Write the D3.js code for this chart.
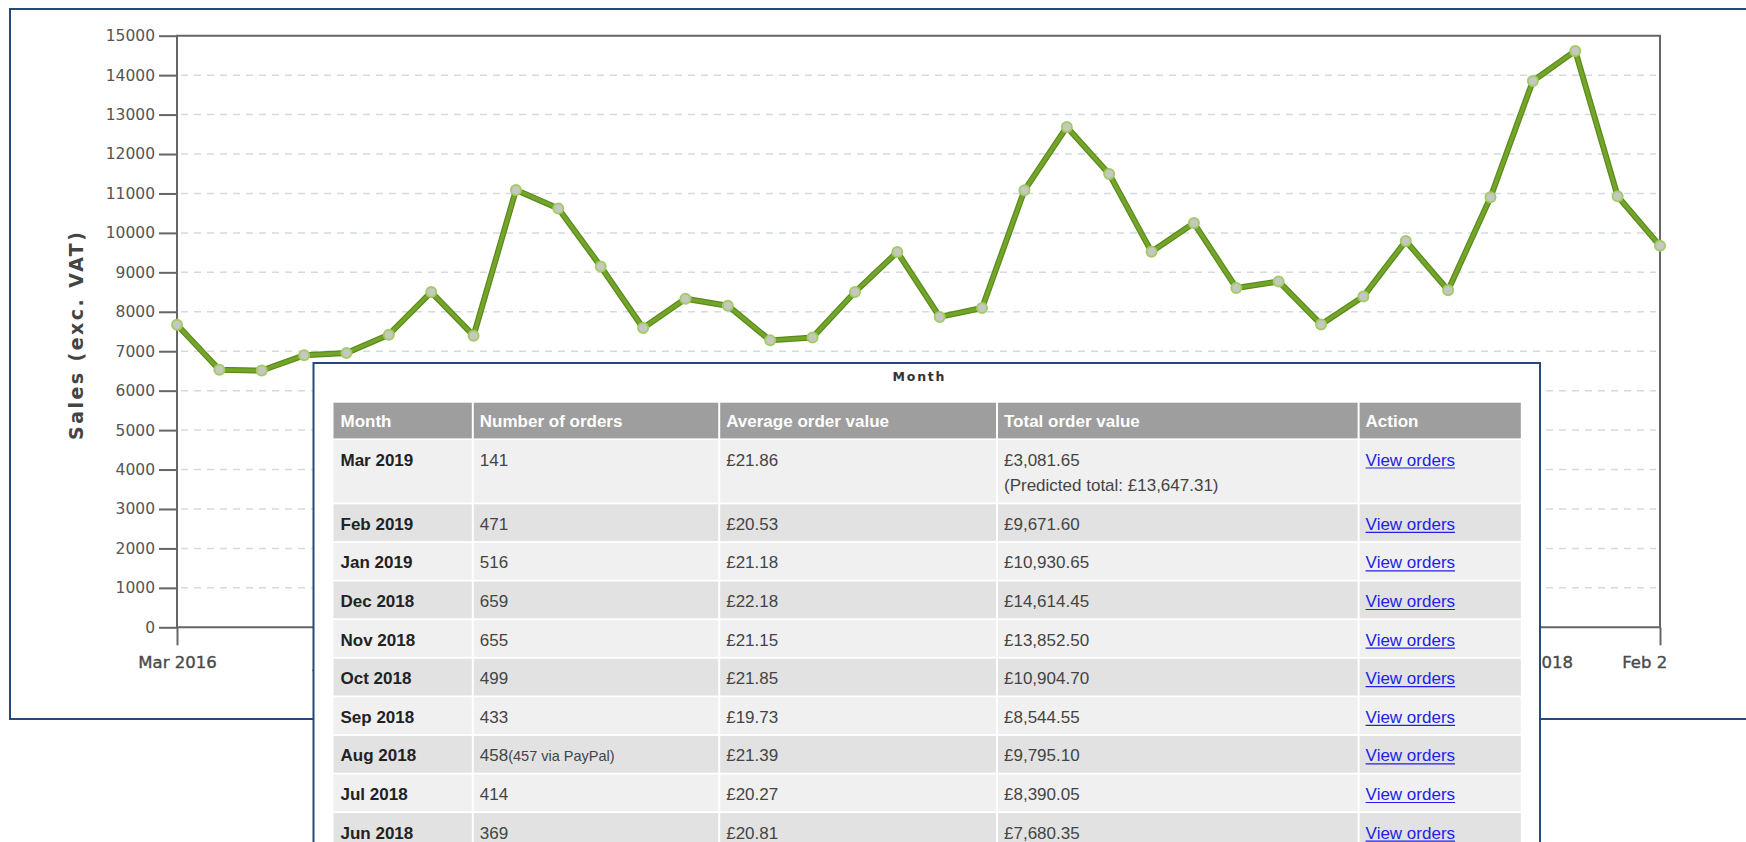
<!DOCTYPE html>
<html>
<head>
<meta charset="utf-8">
<script src="https://cdn.jsdelivr.net/npm/d3@7"></script>
<style>
  html, body { margin: 0; padding: 0; background: #fff; }
  svg { display: block; }
</style>
</head>
<body>
<svg id="c" width="1746" height="842"></svg>
<script>
// Monthly sales (exc. VAT)
const months = [
  "Mar 2016","Apr 2016","May 2016","Jun 2016","Jul 2016","Aug 2016","Sep 2016","Oct 2016","Nov 2016","Dec 2016",
  "Jan 2017","Feb 2017","Mar 2017","Apr 2017","May 2017","Jun 2017","Jul 2017","Aug 2017","Sep 2017","Oct 2017",
  "Nov 2017","Dec 2017","Jan 2018","Feb 2018","Mar 2018","Apr 2018","May 2018","Jun 2018","Jul 2018","Aug 2018",
  "Sep 2018","Oct 2018","Nov 2018","Dec 2018","Jan 2019","Feb 2019"
];
const sales = [
  7670, 6530, 6510, 6895, 6955, 7420, 8500, 7395, 11090, 10620,
  9150, 7590, 8330, 8155, 7275, 7350, 8500, 9515, 7870, 8095,
  11080, 12685, 11495, 9520, 10250, 8605, 8770, 7680.35, 8390.05, 9795.10,
  8544.55, 10904.70, 13852.50, 14614.45, 10930.65, 9671.60
];
const yTicks = [0,1000,2000,3000,4000,5000,6000,7000,8000,9000,10000,11000,12000,13000,14000,15000];
const xTickMonths = ["Mar 2016","Jul 2016","Nov 2016","Mar 2017","Jul 2017","Nov 2017","Mar 2018","Jul 2018","Nov 2018","Feb 2019"];

// Monthly order summary
const tableHeaders = ["Month","Number of orders","Average order value","Total order value","Action"];
const tableMonths = ["Mar 2019","Feb 2019","Jan 2019","Dec 2018","Nov 2018","Oct 2018","Sep 2018","Aug 2018","Jul 2018","Jun 2018"];
const orderCounts = [141, 471, 516, 659, 655, 499, 433, 458, 414, 369];
const orderNotes = ["", "", "", "", "", "", "", "(457 via PayPal)", "", ""];
const avgOrderValues = [21.86, 20.53, 21.18, 22.18, 21.15, 21.85, 19.73, 21.39, 20.27, 20.81];
const totalOrderValues = [3081.65, 9671.60, 10930.65, 14614.45, 13852.50, 10904.70, 8544.55, 9795.10, 8390.05, 7680.35];
const predictedTotals = [13647.31, null, null, null, null, null, null, null, null, null];
const actionLabel = "View orders";

const money = v => "£" + d3.format(",.2f")(v);

const svg = d3.select("#c");
const defs = svg.append("defs");
defs.append("clipPath").attr("id", "chartClip")
  .append("rect").attr("x", 0).attr("y", 0).attr("width", 1668).attr("height", 842);

const BLUE = "#25497b";
const AXIS = "#666";

// outer panel
svg.append("rect")
  .attr("x", 10).attr("y", 9).attr("width", 1760).attr("height", 710)
  .attr("fill", "#fff").attr("stroke", BLUE).attr("stroke-width", 2);

const x = d3.scalePoint().domain(months).range([177, 1660]);
const y = d3.scaleLinear().domain([0, 15000]).range([627.3, 35.7]);

const chart = svg.append("g").attr("clip-path", "url(#chartClip)");

// dashed horizontal grid
chart.append("g").selectAll("line")
  .data(yTicks.filter(v => v > 0 && v < 15000))
  .join("line")
  .attr("x1", 181).attr("x2", 1656)
  .attr("y1", d => y(d)).attr("y2", d => y(d))
  .attr("stroke", "#d4dae0").attr("stroke-width", 1.5)
  .attr("stroke-dasharray", "7,6");

// y axis
const yAxis = chart.append("g")
  .attr("transform", "translate(177,0)")
  .call(d3.axisLeft(y).tickValues(yTicks).tickSize(18).tickPadding(4).tickFormat(d3.format("d")));
yAxis.select(".domain").remove();
yAxis.selectAll(".tick line").attr("stroke", AXIS).attr("stroke-width", 2);
yAxis.selectAll(".tick text")
  .attr("font-family", "DejaVu Sans, sans-serif")
  .attr("font-size", 15.5).attr("fill", "#555");

// x axis
const xAxis = chart.append("g")
  .attr("transform", "translate(0,627.3)")
  .call(d3.axisBottom(x).tickValues(xTickMonths).tickSize(18).tickPadding(0));
xAxis.select(".domain").remove();
xAxis.selectAll(".tick line").attr("stroke", AXIS).attr("stroke-width", 2);
xAxis.selectAll(".tick text")
  .attr("y", 41).attr("dy", null)
  .attr("font-family", "DejaVu Sans, sans-serif")
  .attr("font-size", 16.5).attr("fill", "#4a4a4a")
  .attr("stroke", "#4a4a4a").attr("stroke-width", 0.4);

// plot frame
chart.append("path")
  .attr("d", `M${x.range()[0]},${y(0)}V${y(15000)}H${x.range()[1]}V${y(0)}Z`)
  .attr("fill", "none").attr("stroke", AXIS).attr("stroke-width", 2);

// sales line
const line = d3.line().x((d, i) => x(months[i])).y(d => y(d));
chart.append("path").datum(sales)
  .attr("d", line).attr("fill", "none")
  .attr("stroke", "#5c8a1b").attr("stroke-width", 6)
  .attr("stroke-linejoin", "round").attr("stroke-linecap", "round");
chart.append("path").datum(sales)
  .attr("d", line).attr("fill", "none")
  .attr("stroke", "#74a52b").attr("stroke-width", 3.5)
  .attr("stroke-linejoin", "round").attr("stroke-linecap", "round");

// point markers
chart.append("g").selectAll("circle")
  .data(sales)
  .join("circle")
  .attr("cx", (d, i) => x(months[i]))
  .attr("cy", d => y(d))
  .attr("r", 5)
  .attr("fill", "#c6c7c2")
  .attr("stroke", "#a2cc66").attr("stroke-width", 2);

// y axis title
svg.append("text")
  .attr("transform", "translate(82.5,336) rotate(-90)")
  .attr("text-anchor", "middle")
  .attr("font-family", "DejaVu Sans, sans-serif")
  .attr("font-weight", "bold")
  .attr("font-size", 19)
  .attr("fill", "#444")
  .attr("textLength", 208).attr("lengthAdjust", "spacing")
  .text("Sales (exc. VAT)");

// order summary panel
const panel = svg.append("g");
panel.append("rect")
  .attr("x", 313.5).attr("y", 363).attr("width", 1226.5).attr("height", 520)
  .attr("fill", "#fff").attr("stroke", BLUE).attr("stroke-width", 2);

// x axis title
panel.append("text")
  .attr("x", 918.5).attr("y", 380.5)
  .attr("text-anchor", "middle")
  .attr("font-family", "DejaVu Sans, sans-serif")
  .attr("font-weight", "bold")
  .attr("font-size", 12.5)
  .attr("fill", "#333")
  .attr("textLength", 52).attr("lengthAdjust", "spacing")
  .text("Month");

const colX = [333.5, 472.8, 719.2, 997, 1358.6, 1520.8];
const FONT = "Liberation Sans, Arial, sans-serif";

// header row
const headTop = 402.7, headH = 37.3;
tableHeaders.forEach((h, j) => {
  const x0 = colX[j] + (j > 0 ? 1 : 0), x1 = colX[j + 1] - (j < 4 ? 1 : 0);
  panel.append("rect").attr("x", x0).attr("y", headTop).attr("width", x1 - x0).attr("height", headH - 1.6)
    .attr("fill", "#9e9e9e");
  panel.append("text").attr("x", colX[j] + 7).attr("y", headTop + 24)
    .attr("font-family", FONT).attr("font-weight", "bold").attr("font-size", 17)
    .attr("fill", "#fff").text(h);
});

// body rows
let rowTop = headTop + headH;
tableMonths.forEach((m, i) => {
  const twoLines = predictedTotals[i] != null;
  const h = twoLines ? 64.3 : 38.6;
  const fill = i % 2 === 0 ? "#f0f0f0" : "#e2e2e2";
  for (let j = 0; j < 5; j++) {
    const x0 = colX[j] + (j > 0 ? 1 : 0), x1 = colX[j + 1] - (j < 4 ? 1 : 0);
    panel.append("rect").attr("x", x0).attr("y", rowTop).attr("width", x1 - x0).attr("height", h - 1.8)
      .attr("fill", fill);
  }
  const base = rowTop + 25.5;
  panel.append("text").attr("x", colX[0] + 7).attr("y", base)
    .attr("font-family", FONT).attr("font-weight", "bold").attr("font-size", 17)
    .attr("fill", "#222").text(m);

  const cnt = panel.append("text").attr("x", colX[1] + 7).attr("y", base)
    .attr("font-family", FONT).attr("font-size", 17).attr("fill", "#444");
  cnt.append("tspan").text(orderCounts[i]);
  if (orderNotes[i]) cnt.append("tspan").attr("font-size", 14.5).text(orderNotes[i]);

  panel.append("text").attr("x", colX[2] + 7).attr("y", base)
    .attr("font-family", FONT).attr("font-size", 17).attr("fill", "#444")
    .text(money(avgOrderValues[i]));

  panel.append("text").attr("x", colX[3] + 7).attr("y", base)
    .attr("font-family", FONT).attr("font-size", 17).attr("fill", "#444")
    .text(money(totalOrderValues[i]));
  if (twoLines) {
    panel.append("text").attr("x", colX[3] + 7).attr("y", base + 25.7)
      .attr("font-family", FONT).attr("font-size", 17).attr("fill", "#444")
      .text("(Predicted total: " + money(predictedTotals[i]) + ")");
  }

  const link = panel.append("text").attr("x", colX[4] + 7).attr("y", base)
    .attr("font-family", FONT).attr("font-size", 17).attr("fill", "#2121e8")
    .text(actionLabel);
  const w = link.node().getComputedTextLength();
  panel.append("line")
    .attr("x1", colX[4] + 7).attr("x2", colX[4] + 7 + w)
    .attr("y1", base + 2.5).attr("y2", base + 2.5)
    .attr("stroke", "#2121e8").attr("stroke-width", 1.2);

  rowTop += h;
});
</script>
</body>
</html>
